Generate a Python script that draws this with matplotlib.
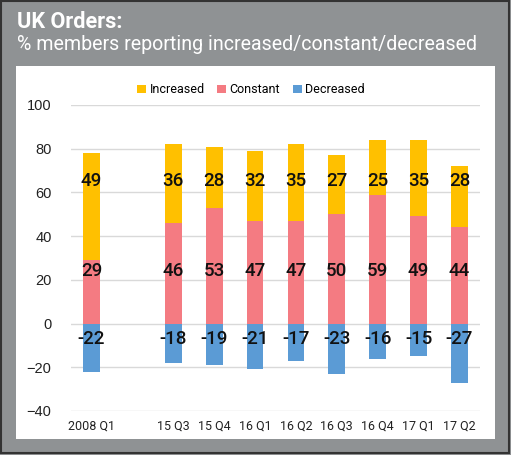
import matplotlib.pyplot as plt
from matplotlib.patches import Rectangle
from matplotlib import font_manager

categories = ["2008 Q1", "", "15 Q3", "15 Q4", "16 Q1", "16 Q2", "16 Q3", "16 Q4", "17 Q1", "17 Q2"]
increased = [49, None, 36, 28, 32, 35, 27, 25, 35, 28]
constant = [29, None, 46, 53, 47, 47, 50, 59, 49, 44]
decreased = [-22, None, -18, -19, -21, -17, -23, -16, -15, -27]

C_INC = "#FFC000"
C_CON = "#F47B82"
C_DEC = "#5B9BD5"
FRAME = "#8F9294"

names = {f.name for f in font_manager.fontManager.ttflist}
narrow = "Roboto" if "Roboto" in names else "DejaVu Sans"

fig = plt.figure(figsize=(5.11, 4.55), dpi=100)
fig.patch.set_facecolor(FRAME)
fig.patches.append(Rectangle((0.0025, 0.005), 0.993, 0.993, transform=fig.transFigure,
                             facecolor="none", edgecolor="#333333", lw=1.5))
fig.patches.append(Rectangle((16 / 511, 16 / 455), 479 / 511, 373 / 455, transform=fig.transFigure,
                             facecolor="white", edgecolor="none", zorder=0))

title = fig.text(17 / 511, 1 - 28 / 455, "UK Orders:", color="white", fontsize=14,
                 fontweight="bold", family=narrow, va="baseline")
sub = fig.text(17 / 511, 1 - 50 / 455, "% members reporting increased/constant/decreased",
               color="white", fontsize=15, family=narrow, va="baseline")
# shrink the titles so they span about the same width as the reference
r = fig.canvas.get_renderer()
sub.set_fontsize(15 * 461 / sub.get_window_extent(r).width)
title.set_fontsize(14 * 106 / title.get_window_extent(r).width)

ax = fig.add_axes([71 / 511, 44 / 455, 409 / 511, 306 / 455], zorder=2)
ax.set_facecolor("white")
x = list(range(len(categories)))
w = 0.41
idx = [i for i in x if increased[i] is not None]
inc = [increased[i] for i in idx]
con = [constant[i] for i in idx]
dec = [decreased[i] for i in idx]

ax.bar(idx, con, w, color=C_CON, label="Constant", zorder=2)
ax.bar(idx, inc, w, bottom=con, color=C_INC, label="Increased", zorder=2)
ax.bar(idx, dec, w, color=C_DEC, label="Decreased", zorder=2)

lab = dict(fontsize=13.5, family=narrow, fontweight="medium", color="#111111",
           ha="center", va="center", zorder=3)
for i, a, b, c in zip(idx, inc, con, dec):
    ax.text(i, 65, str(a), **lab)
    ax.text(i, 24, str(b), **lab)
    ax.text(i, -7, str(c), **lab)

ax.set_xlim(-0.5, len(categories) - 0.5)
ax.set_ylim(-40, 100)
ax.set_yticks(range(-40, 101, 20))
ax.set_xticks(x)
ax.set_xticklabels(categories, family=narrow, fontsize=9, color="#222222")
for t in ax.get_yticklabels():
    t.set_family("Liberation Sans")
ax.tick_params(axis="y", labelsize=10.5, colors="#222222", length=0, pad=14)
ax.tick_params(axis="x", length=0, pad=6)
ax.grid(axis="y", color="#D9D9D9", lw=1, zorder=0)
for s in ax.spines.values():
    s.set_visible(False)

h, l = ax.get_legend_handles_labels()
order = [1, 0, 2]
ax.legend([h[k] for k in order], [l[k] for k in order], loc="lower center",
          bbox_to_anchor=(0.44, 1.0), ncol=3, frameon=False, handlelength=0.7,
          handleheight=0.7, handletextpad=0.3, columnspacing=1.0,
          prop={"family": narrow, "size": 9}, borderaxespad=0.3)

fig.savefig("out.png", dpi=100, facecolor=FRAME)
